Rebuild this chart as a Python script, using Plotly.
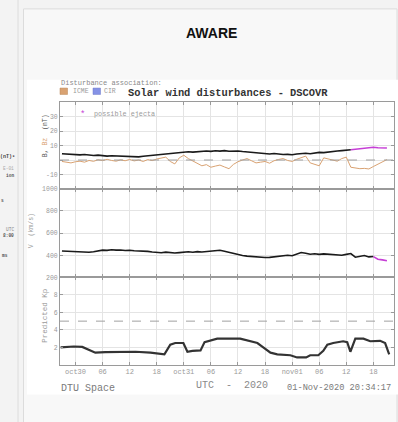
import plotly.graph_objects as go
import pandas as pd

# ---------------- data (hours after 2020-10-30 00:00 UTC) ----------------
hours = list(range(-3, 70))
bt = [4.3, 4.0, 4.2, 3.9, 3.6, 3.8, 3.3, 3.1, 3.4, 2.9, 2.7, 3.0, 2.8, 2.6, 2.9, 2.5,
      2.3, 2.2, 2.6, 2.9, 3.0, 3.3, 3.6, 4.1, 4.6, 4.4, 5.0, 5.4, 5.7, 5.5, 5.9, 6.2,
      6.3, 6.0, 6.4, 6.2, 6.5, 6.1, 6.4, 6.3, 5.9, 5.6, 5.2, 4.9, 4.6, 4.4, 4.2, 4.5,
      4.0, 3.8, 3.9, 3.7, 4.2, 4.5, 4.7, 4.4, 5.0, 5.3, 5.1, 5.6, 5.9, 6.2, 6.5, 6.8,
      7.1, 7.5, 7.9, 8.2, 8.6, 8.8, 8.5, 8.2, 8.3]
bz = [-1.0, -1.6, -2.0, -1.2, -0.8, -1.5, -0.3, -0.9, 0.2, -0.4, 0.5, -0.3, -0.8, 0.1,
      -0.5, 0.4, -0.6, 0.0, -1.0, 0.3, -0.4, 0.7, 1.2, 2.0, -1.0, -2.7, 1.5, 3.3, 1.0,
      -0.7, -2.5, -4.0, -3.2, -5.0, -4.2, -3.5, -4.8, -6.0, -3.0, -1.2, 0.0, 1.0, -0.5,
      -2.0, -1.5, -1.0, -2.2, -0.5, 0.4, 1.0, -0.3, -1.0, 0.5, 1.5, 2.7, -2.0, -3.0,
      -4.0, 1.5, 0.8, 0.0, -0.8, 1.0, 2.0, -5.0, -5.6, -6.0, -5.8, -6.2, -4.5, -3.0,
      -1.0, 0.3]
speed = [438, 436, 433, 435, 432, 428, 427, 432, 442, 446, 444, 449, 446, 448, 443, 445,
         440, 438, 441, 435, 430, 427, 422, 428, 425, 420, 424, 430, 431, 427, 433, 430,
         435, 438, 442, 445, 436, 425, 415, 405, 398, 392, 388, 383, 380, 379, 381, 385,
         390, 394, 400, 395, 410, 425, 418, 409, 414, 408, 412, 410, 405, 402, 400, 408,
         415, 382, 390, 397, 385, 388, 364, 358, 350]
bt_ejecta_from = 61      # hour where the "possible ejecta" colouring starts (B)
v_ejecta_from = 66       # hour where it starts (V)

kp_hours = [-3.3, -0.4, 1.5, 3.3, 4.4, 6.6, 10, 13.3, 16.6, 18.8, 19.7, 21, 22.1, 23.9,
            24.8, 25.9, 27.7, 28.6, 29.9, 31.4, 36.5, 38.7, 40.3, 41.6, 43.2, 44.7,
            47.6, 49.1, 51.1, 52, 53.8, 54.9, 55.8, 57.1, 59.3, 60.2, 60.9, 62, 63.8,
            65.3, 67.5, 68.6, 69.5]
kp = [2.0, 2.1, 2.05, 1.7, 1.4, 1.45, 1.5, 1.5, 1.4, 1.3, 1.2, 2.3, 2.5, 2.5, 1.5, 1.6,
      1.65, 2.6, 2.75, 3.0, 3.0, 2.75, 2.5, 2.0, 1.4, 1.2, 1.1, 0.85, 0.85, 1.1, 1.1,
      1.6, 2.3, 2.5, 2.7, 2.6, 1.5, 3.0, 3.0, 2.7, 2.75, 2.5, 1.2]
kp_threshold = 5

tick_labels = ["oct30", "06", "12", "18", "oct31", "06", "12", "18", "nov01", "06", "12", "18"]

t0 = pd.Timestamp("2020-10-30 00:00")
def to_time(h):
    return [t0 + pd.Timedelta(hours=x) for x in h]

t = to_time(hours)
i_b = hours.index(bt_ejecta_from)
i_v = hours.index(v_ejecta_from)
tk = to_time(kp_hours)
tickvals = pd.date_range("2020-10-30", periods=len(tick_labels), freq="6h")
xr = ["2020-10-29 20:34", "2020-11-01 22:34"]

W, H = 398, 422
def px(x): return x / W
def py(y): return 1 - y / H

MONO = "Liberation Mono"
MAG = "#c63fd6"
ORANGE = "#d9a272"

fig = go.Figure()
fig.add_trace(go.Scatter(x=t, y=bz, xaxis="x", yaxis="y", mode="lines",
                         line=dict(color=ORANGE, width=1), showlegend=False))
fig.add_trace(go.Scatter(x=t[:i_b + 1], y=bt[:i_b + 1], xaxis="x", yaxis="y", mode="lines",
                         line=dict(color="#1a1a1a", width=1.6), showlegend=False))
fig.add_trace(go.Scatter(x=t[i_b:], y=bt[i_b:], xaxis="x", yaxis="y", mode="lines",
                         line=dict(color=MAG, width=1.6), showlegend=False))
fig.add_trace(go.Scatter(x=t[:i_v + 1], y=speed[:i_v + 1], xaxis="x2", yaxis="y2", mode="lines",
                         line=dict(color="#1a1a1a", width=1.6), showlegend=False))
fig.add_trace(go.Scatter(x=t[i_v:], y=speed[i_v:], xaxis="x2", yaxis="y2", mode="lines",
                         line=dict(color=MAG, width=1.6), showlegend=False))
fig.add_trace(go.Scatter(x=tk, y=kp, xaxis="x3", yaxis="y3", mode="lines",
                         line=dict(color="#333333", width=2.2), showlegend=False))

tickfont = dict(family=MONO, size=6.5, color="#9a9a9a")
def xax(anchor, labels):
    return dict(range=xr, domain=[px(60), px(394)], anchor=anchor,
                tickvals=tickvals, ticktext=tick_labels, showticklabels=labels,
                showgrid=True, gridcolor="#e4e4e4", gridwidth=1, zeroline=False,
                showline=True, linecolor="#9a9a9a", linewidth=1, mirror="ticks",
                ticks="inside", ticklen=3, tickcolor="#9a9a9a",
                tickfont=dict(family=MONO, size=7, color="#9a9a9a"))
def yax(anchor, dom, rng, vals, text):
    return dict(range=rng, domain=dom, anchor=anchor, tickvals=vals, ticktext=text,
                showgrid=True, gridcolor="#e4e4e4", gridwidth=1, zeroline=False,
                showline=True, linecolor="#9a9a9a", linewidth=1, mirror="ticks",
                ticks="inside", ticklen=3, tickcolor="#9a9a9a", tickfont=tickfont)

shapes = [
    # left neighbouring panel edge
    dict(type="line", xref="paper", yref="paper", x0=px(18), x1=px(18), y0=py(-5), y1=py(430),
         line=dict(color="#dcdcdc", width=1), layer="below"),
    # card
    dict(type="rect", xref="paper", yref="paper", x0=px(23.5), x1=px(397), y0=py(6), y1=py(440),
         fillcolor="#f8f8f8", line=dict(color="#dcdcdc", width=1), layer="below"),
    # white image area
    dict(type="rect", xref="paper", yref="paper", x0=px(27), x1=px(400), y0=py(78), y1=py(398),
         fillcolor="#ffffff", line=dict(width=0), layer="below"),
    # legend squares
    dict(type="rect", xref="paper", yref="paper", x0=px(60), x1=px(67.5), y0=py(93), y1=py(86.5),
         fillcolor=ORANGE, line=dict(color="#b98555", width=0.5)),
    dict(type="rect", xref="paper", yref="paper", x0=px(93), x1=px(100.5), y0=py(93), y1=py(86.5),
         fillcolor="#8592e6", line=dict(color="#6c78c9", width=0.5)),
    # reference lines
    dict(type="line", xref="x domain", yref="y", x0=0, x1=1, y0=0, y1=0,
         line=dict(color="#a0a0a0", width=1, dash="dash")),
    dict(type="line", xref="x3 domain", yref="y3", x0=0, x1=1, y0=kp_threshold, y1=kp_threshold,
         line=dict(color="#a0a0a0", width=1, dash="dash")),
]

def ann(x, y, text, size, color="#8a8a8a", family=MONO, xanchor="left", angle=0, bold=False):
    if bold:
        text = "<b>" + text + "</b>"
    return dict(x=px(x), y=py(y), xref="paper", yref="paper", text=text, showarrow=False,
                xanchor=xanchor, yanchor="middle", textangle=angle,
                font=dict(family=family, size=size, color=color))

NB = "\u00a0"
annotations = [
    ann(211, 30, "AWARE", 14, "#111111", "Liberation Sans", "center", bold=True),
    ann(59, 81, "Disturbance association:", 7, "#8a8a8a"),
    ann(71, 90, "ICME", 6.5, "#9a9a9a"),
    ann(102, 90, "CIR", 6.5, "#9a9a9a"),
    ann(126, 91.5, "Solar wind disturbances - DSCOVR", 10.4, "#333333", bold=True),
    ann(82, 113.5, "*", 9, MAG, xanchor="center"),
    ann(92, 113, "possible ejecta", 6.8, "#9a9a9a"),
    ann(45, 135.5, "B," + NB + "<span style='color:" + ORANGE + "'>Bz</span>" + NB + NB + "(nT)",
        6.5, "#555555", xanchor="center", angle=-90),
    ann(31, 232, "V" + NB + NB + "(km/s)", 6.5, "#999999", xanchor="center", angle=-90),
    ann(45, 318, "Predicted" + NB + "Kp", 7.5, "#999999", xanchor="center", angle=-90),
    ann(59, 392, "DTU" + NB + "Space", 10, "#7a7a7a"),
    ann(232, 389, "UTC" + NB * 2 + "-" + NB * 2 + "2020", 10, "#8a8a8a", xanchor="center"),
    ann(393, 392, "01-Nov-2020" + NB + "20:34:17", 8.7, "#7a7a7a", xanchor="right"),
    # cut-off text from the neighbouring panel
    ann(17, 157, "(nT)²", 5, "#444444", xanchor="right", bold=True),
    ann(16, 168, "E-01", 4.5, "#aaaaaa", xanchor="right"),
    ann(16, 175, "ion", 4.5, "#555555", xanchor="right", bold=True),
    ann(6, 200.5, "s", 4.5, "#555555", xanchor="right", bold=True),
    ann(16, 230, "UTC", 4.5, "#888888", xanchor="right"),
    ann(16, 236, "8:00", 4.5, "#555555", xanchor="right", bold=True),
    ann(10, 256.5, "ms", 4.5, "#555555", xanchor="right", bold=True),
]

fig.update_layout(
    width=W, height=H, autosize=False,
    margin=dict(l=0, r=0, t=0, b=0),
    paper_bgcolor="#f3f3f3", plot_bgcolor="#ffffff",
    showlegend=False,
    xaxis=xax("y", False),
    xaxis2=xax("y2", False),
    xaxis3=xax("y3", True),
    yaxis=yax("x", [py(189), py(101)], [-20, 40], [-10, 0, 10, 20, 30], ["-10", "", "10", "20", "30"]),
    yaxis2=yax("x2", [py(279), py(189)], [200, 1000], [200, 400, 600, 800, 1000],
               ["200", "400", "600", "800", "1000"]),
    yaxis3=yax("x3", [py(368), py(279)], [0, 10], [2, 4, 6, 8, 10], ["2", "4", "6", "8", ""]),
    shapes=shapes,
    annotations=annotations,
)

fig.write_html("out.html", config={"displayModeBar": False},
               post_script="document.body.style.margin='0';document.body.style.overflow='hidden';")
